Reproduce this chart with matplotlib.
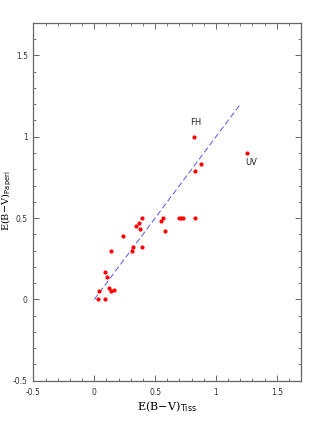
import numpy as np
import matplotlib
matplotlib.use('Agg')
import matplotlib.pyplot as plt
from matplotlib.ticker import MultipleLocator, FuncFormatter

# E(B-V) from Tiss vs E(B-V) from paper I
ebv_tiss = [0.027, 0.038, 0.085, 0.090, 0.107, 0.118, 0.140, 0.159, 0.140,
            0.238, 0.310, 0.320, 0.340, 0.370, 0.378, 0.389, 0.389, 0.548,
            0.567, 0.578, 0.700, 0.712, 0.726, 0.827, 0.827, 0.877, 0.816,
            1.258]
ebv_paper = [0.00, 0.05, 0.00, 0.17, 0.14, 0.07, 0.05, 0.06, 0.30,
             0.39, 0.30, 0.32, 0.45, 0.47, 0.43, 0.50, 0.32, 0.48,
             0.50, 0.42, 0.50, 0.50, 0.50, 0.50, 0.79, 0.83, 1.00,
             0.90]
one_to_one = [0.0, 1.2]
labels = ['FH', 'UV']
label_x = [0.838, 1.29]
label_y = [1.085, 0.84]

plt.rcParams['mathtext.fontset'] = 'dejavuserif'

fig = plt.figure(figsize=(3.18, 4.24), dpi=100)
ax = fig.add_axes([0.105, 0.102, 0.842, 0.844])

ax.plot(one_to_one, one_to_one, color='#5555ee', lw=0.7, dashes=(6, 3))
ax.scatter(ebv_tiss, ebv_paper, s=9, color='red', zorder=3, linewidths=0)

for t, x, y in zip(labels, label_x, label_y):
    ax.text(x, y, t, fontsize=6, ha='center', va='center', color='#222222')

ax.set_xlim(-0.5, 1.7)
ax.set_ylim(-0.5, 1.7)

ax.xaxis.set_major_locator(MultipleLocator(0.5))
ax.yaxis.set_major_locator(MultipleLocator(0.5))
ax.xaxis.set_minor_locator(MultipleLocator(0.1))
ax.yaxis.set_minor_locator(MultipleLocator(0.1))
fmt = FuncFormatter(lambda v, p: ('%g' % round(v, 2)))
ax.xaxis.set_major_formatter(fmt)
ax.yaxis.set_major_formatter(fmt)

ax.tick_params(which='both', direction='in', top=True, right=True,
               color='#666666', labelsize=5.5, labelcolor='#333333')
ax.tick_params(which='major', length=4, width=0.7, pad=5)
ax.tick_params(axis='y', which='major', pad=4)
ax.tick_params(which='minor', length=2, width=0.6)
for s in ax.spines.values():
    s.set_color('#666666')
    s.set_linewidth(0.9)

ax.set_xlabel(r'$\mathrm{E(B\!-\!V)}_{\mathsf{Tiss}}$', fontsize=8)
ax.set_ylabel(r'$\mathrm{E(B\!-\!V)}_{\mathsf{Paperl}}$', fontsize=7)
ax.xaxis.set_label_coords(0.5, -0.073)
ax.yaxis.set_label_coords(-0.098, 0.502)
ax.xaxis.label.set_va('center')
ax.yaxis.label.set_va('center')

fig.savefig('out.png', dpi=100)
